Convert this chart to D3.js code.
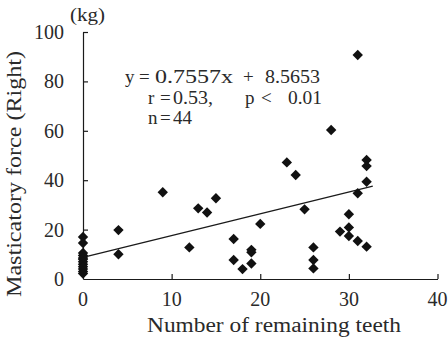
<!DOCTYPE html>
<html>
<head>
<meta charset="utf-8">
<script src="https://cdn.jsdelivr.net/npm/d3@7"></script>
<style>
  html, body { margin: 0; padding: 0; background: #fff; }
</style>
</head>
<body>
<div id="chart"></div>
<script>
// number of remaining teeth
const teeth = [
  0, 0, 0, 0, 0, 0, 0, 0, 0, 0, 0, 0,
  4, 4, 9, 12, 13, 14, 15, 17, 17, 18, 19, 19, 19, 20,
  23, 24, 25, 26, 26, 26, 28, 29, 30, 30, 30, 31, 31, 31, 32, 32, 32, 32,
];
// masticatory force, right side (kg)
const force = [
  17, 14.6, 10.5, 9.5, 8.5, 8, 7, 6, 5, 4, 3, 2.2,
  19.8, 10, 35.1, 12.8, 28.6, 26.9, 32.7, 16.2, 7.7, 4, 11.8, 10.8, 6.3, 22.3,
  47.2, 42.1, 28.2, 12.8, 7.7, 4.3, 60.3, 19.2, 26.2, 20.9, 17.4, 90.7, 34.7, 15.4, 48.2, 45.7, 39.4, 13.1,
];
const xTicks = [0, 10, 20, 30, 40];
const yTicks = [0, 20, 40, 60, 80, 100];
// trend line as drawn in the figure (start / end)
const trendX = [0, 32.7];
const trendY = [8.8, 37.6];

const FONT = "'Liberation Serif', 'Times New Roman', 'DejaVu Serif', serif";
const INK = '#1a1a1a';
const TEXT = '#2a2a2a';
const width = 448, height = 343;

const svg = d3.select('#chart')
  .append('svg')
  .attr('width', width)
  .attr('height', height)
  .attr('font-family', FONT);

const x = d3.scaleLinear().domain([0, 40]).range([83, 437.5]);
const y = d3.scaleLinear().domain([0, 100]).range([279, 32]);

const label = (sel, size) => sel
  .attr('font-family', FONT)
  .style('font-family', FONT)
  .style('font-size', size + 'px')
  .attr('fill', TEXT);

// axes - ticks point inward
svg.append('g')
  .attr('transform', `translate(0,${y(0)})`)
  .call(d3.axisBottom(x).tickValues(xTicks.slice(1)).tickSizeInner(-5).tickSizeOuter(0).tickFormat(''));
svg.append('g')
  .attr('transform', `translate(${x(0)},0)`)
  .call(d3.axisLeft(y).tickValues(yTicks.slice(1)).tickSizeInner(-5).tickSizeOuter(0).tickFormat(''));
svg.selectAll('.domain').attr('stroke', INK).attr('stroke-width', 1.2);
svg.selectAll('.tick line').attr('stroke', INK).attr('stroke-width', 1.2);

// tick labels
svg.append('g')
  .selectAll('text')
  .data(xTicks)
  .join('text')
  .attr('x', (d) => x(d))
  .attr('y', 306)
  .attr('text-anchor', 'middle')
  .call(label, 20)
  .text((d) => d);

svg.append('g')
  .selectAll('text')
  .data(yTicks)
  .join('text')
  .attr('x', 64)
  .attr('y', (d) => y(d) + 7)
  .attr('text-anchor', 'end')
  .call(label, 20)
  .text((d) => d);

// axis titles
svg.append('text')
  .attr('x', 147)
  .attr('y', 332)
  .attr('textLength', 254)
  .attr('lengthAdjust', 'spacingAndGlyphs')
  .call(label, 20)
  .text('Number of remaining teeth');

svg.append('text')
  .attr('transform', 'translate(21,297) rotate(-90)')
  .attr('textLength', 246)
  .attr('lengthAdjust', 'spacingAndGlyphs')
  .call(label, 20)
  .text('Masticatory force (Right)');

svg.append('text')
  .attr('x', 70)
  .attr('y', 21)
  .attr('textLength', 35)
  .attr('lengthAdjust', 'spacingAndGlyphs')
  .call(label, 18)
  .text('(kg)');

// trend line
svg.append('line')
  .attr('x1', x(trendX[0]))
  .attr('y1', y(trendY[0]))
  .attr('x2', x(trendX[1]))
  .attr('y2', y(trendY[1]))
  .attr('stroke', INK)
  .attr('stroke-width', 1.3);

// data points (diamonds)
const diamond = d3.symbol().type(d3.symbolSquare).size(54);
svg.append('g')
  .selectAll('path')
  .data(teeth.map((t, i) => [t, force[i]]))
  .join('path')
  .attr('d', diamond)
  .attr('transform', (d) => `translate(${x(d[0])},${y(d[1])}) rotate(45)`)
  .attr('fill', '#111');

// equation annotation
const eq = [
  { x: 125, y: 83, t: 'y' },
  { x: 139, y: 83, t: '=' },
  { x: 155, y: 83, t: '0.7557x', len: 78 },
  { x: 243, y: 83, t: '+' },
  { x: 265, y: 83, t: '8.5653', len: 55 },
  { x: 148, y: 104, t: 'r' },
  { x: 160, y: 104, t: '=' },
  { x: 173, y: 104, t: '0.53,', len: 40 },
  { x: 245, y: 104, t: 'p' },
  { x: 261, y: 104, t: '<' },
  { x: 288, y: 104, t: '0.01', len: 34 },
  { x: 148, y: 124, t: 'n' },
  { x: 160, y: 124, t: '=' },
  { x: 173, y: 124, t: '44', len: 19 },
];
svg.append('g')
  .selectAll('text')
  .data(eq)
  .join('text')
  .attr('x', (d) => d.x)
  .attr('y', (d) => d.y)
  .attr('textLength', (d) => d.len || null)
  .attr('lengthAdjust', 'spacingAndGlyphs')
  .call(label, 19)
  .text((d) => d.t);
</script>
</body>
</html>
